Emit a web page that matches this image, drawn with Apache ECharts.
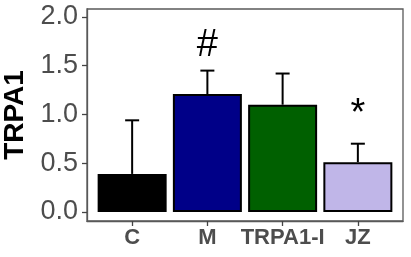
<!DOCTYPE html>
<html><head><meta charset="utf-8">
<script src="https://cdn.jsdelivr.net/npm/echarts@6/dist/echarts.min.js"></script>
<style>html,body{margin:0;padding:0;background:#fff}#c{width:411px;height:257px}</style>
</head><body><div id="c"></div>
<script>
var categories = ['C', 'M', 'TRPA1-I', 'JZ'];
var means = [0.39, 1.21, 1.10, 0.51];
var errUpper = [0.94, 1.45, 1.42, 0.70];
var barColors = ['#000000', '#000088', '#006000', '#C0B6E8'];
var sigLabels = ['', '#', '', '*'];
var sigY = [null, 1.71, null, 1.00];
var yTicks = [0, 0.5, 1.0, 1.5, 2.0];
var xTicks = [0, 1, 2, 3];

var chart = echarts.init(document.getElementById('c'), null, {renderer: 'canvas'});
var barData = means.map(function (v, i) {
  return {value: [i, v], itemStyle: {color: barColors[i]}};
});
var errData = means.map(function (v, i) { return [i, v, errUpper[i]]; });
var sigData = [];
sigLabels.forEach(function (s, i) { if (s) sigData.push([i, sigY[i], s]); });

chart.setOption({
  animation: false,
  grid: {left: 87, top: 9, width: 316, height: 212, show: true, borderColor: '#595959', borderWidth: 1.3, backgroundColor: 'transparent', containLabel: false, outerBoundsMode: 'none'},
  xAxis: {
    type: 'value', min: -0.6, max: 3.6,
    splitLine: {show: false},
    axisLine: {show: true, onZero: false, lineStyle: {color: '#595959', width: 1.3}},
    axisTick: {show: true, length: 5, customValues: xTicks, lineStyle: {color: '#444', width: 1.3}},
    axisLabel: {customValues: xTicks, margin: 6, fontFamily: 'Liberation Sans, Arial', fontWeight: 'bold', fontSize: 22, color: '#4D4D4D',
      formatter: function (v) { return categories[Math.round(v)]; }}
  },
  yAxis: {
    type: 'value', min: -0.093, max: 2.082,
    name: 'TRPA1', nameLocation: 'middle', nameGap: 56,
    nameTextStyle: {fontFamily: 'Liberation Sans, Arial', fontWeight: 'bold', fontSize: 28, color: '#000'},
    splitLine: {show: false},
    axisLine: {show: true, onZero: false, lineStyle: {color: '#595959', width: 1.3}},
    axisTick: {show: true, length: 5, customValues: yTicks, lineStyle: {color: '#444', width: 1.3}},
    axisLabel: {customValues: yTicks, margin: 9, fontFamily: 'Liberation Sans, Arial', fontSize: 27, color: '#4D4D4D',
      formatter: function (v) { return v.toFixed(1); }}
  },
  series: [
    {
      type: 'custom', z: 1,
      data: errData,
      renderItem: function (params, api) {
        var base = api.coord([api.value(0), api.value(1)]);
        var top = api.coord([api.value(0), api.value(2)]);
        var hw = 7;
        return {type: 'group', children: [
          {type: 'line', shape: {x1: base[0], y1: base[1], x2: top[0], y2: top[1]}, style: {stroke: '#000', lineWidth: 2}},
          {type: 'line', shape: {x1: top[0] - hw, y1: top[1], x2: top[0] + hw, y2: top[1]}, style: {stroke: '#000', lineWidth: 2}}
        ]};
      }
    },
    {
      type: 'bar', z: 2, barWidth: 69,
      data: barData,
      itemStyle: {borderColor: '#000', borderWidth: 2}
    },
    {
      type: 'custom', z: 3,
      data: sigData,
      renderItem: function (params, api) {
        var p = api.coord([api.value(0), api.value(1)]);
        return {type: 'text', x: p[0], y: p[1], style: {text: sigLabels[api.value(0)], fontSize: 38, fontFamily: 'Liberation Sans, Arial', fill: '#000', align: 'center', verticalAlign: 'middle'}};
      }
    }
  ]
});
</script></body></html>
